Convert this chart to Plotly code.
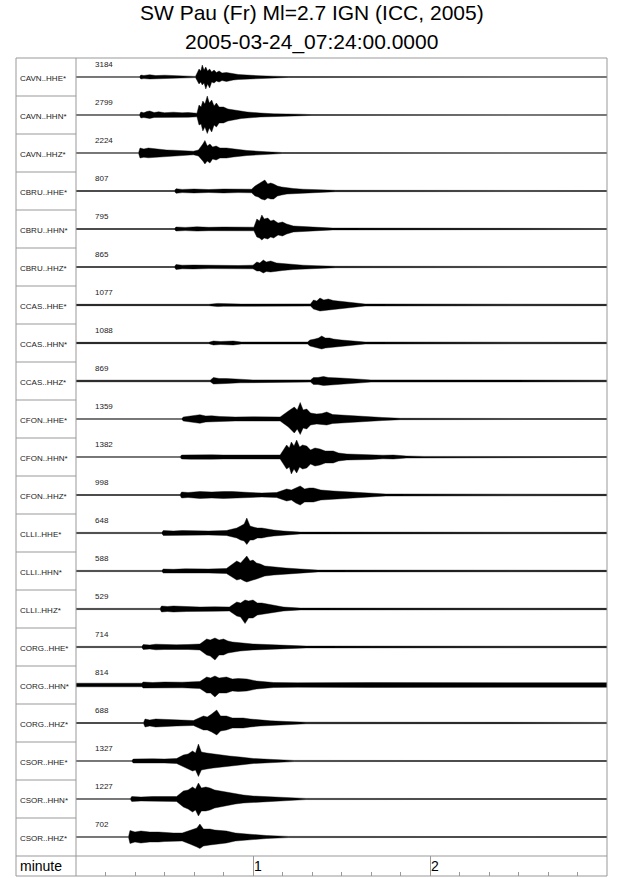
import plotly.graph_objects as go

# station / channel labels, top to bottom
STATIONS = [
    "CAVN..HHE*", "CAVN..HHN*", "CAVN..HHZ*",
    "CBRU..HHE*", "CBRU..HHN*", "CBRU..HHZ*",
    "CCAS..HHE*", "CCAS..HHN*", "CCAS..HHZ*",
    "CFON..HHE*", "CFON..HHN*", "CFON..HHZ*",
    "CLLI..HHE*", "CLLI..HHN*", "CLLI..HHZ*",
    "CORG..HHE*", "CORG..HHN*", "CORG..HHZ*",
    "CSOR..HHE*", "CSOR..HHN*", "CSOR..HHZ*",
]
# max amplitude printed above each trace
MAX_COUNTS = [3184, 2799, 2224, 807, 795, 865, 1077, 1088, 869,
              1359, 1382, 998, 648, 588, 529, 714, 814, 688, 1327, 1227, 702]

# envelope of each trace: time (s), half-height above / below (px)
ENV_T = [
    [0, 21.5, 22, 23, 25, 27, 30, 33, 35, 37, 40.5, 41.7, 42.3, 42.8, 43.4, 44, 44.6, 45.3, 46, 46.8, 47.6, 48.5, 49.5, 51, 53.3, 55, 57.9, 60, 62.4, 67, 72, 180],
    [0, 21.5, 22, 23, 24, 25, 26.5, 28, 30, 33, 36, 38, 41, 41.7, 42.4, 43, 43.7, 44.5, 45.2, 46, 46.8, 47.6, 48.5, 50, 51.5, 53.3, 56, 58, 62.4, 67, 76, 80, 180],
    [0, 21.2, 21.7, 23, 24.5, 26, 28, 30.7, 33, 36, 39.8, 41.5, 42.3, 43, 43.7, 44.5, 45.4, 46.3, 47.5, 48.8, 51, 53.3, 58, 64.6, 70, 180],
    [0, 33.4, 33.9, 36, 40, 45, 50, 55, 59.5, 60.7, 61.8, 62.8, 64, 65, 66, 67, 68.3, 69.7, 71.5, 73.7, 77, 81.6, 88, 180],
    [0, 33.4, 33.9, 37, 41, 45, 50, 55, 60.3, 61.3, 62.2, 63, 63.8, 65, 66, 67, 68.5, 70, 71.4, 73.7, 77, 80.5, 87, 180],
    [0, 33.4, 33.9, 36, 39.8, 45, 50, 55, 60, 61.3, 62.3, 63.5, 64.5, 66, 68, 70, 73.7, 77, 81.6, 88, 180],
    [0, 45, 48, 50, 53, 56, 79.5, 80.5, 81.6, 82.7, 84, 85.5, 87.2, 88.8, 90.6, 94, 98, 180],
    [0, 45, 46.6, 49, 53.3, 56, 78.5, 79.3, 81, 82.2, 83.3, 84.5, 86, 87.2, 90, 94, 98, 180],
    [0, 45.5, 46.6, 48.5, 51, 55.6, 60, 79.5, 80.5, 82, 83.9, 85.5, 87.5, 89.5, 96.3, 100, 180],
    [0, 35.8, 36.4, 39, 42, 44, 46, 48.8, 54, 60, 65, 69.2, 72, 73, 74, 75, 76, 77, 78.2, 79.5, 81.6, 83.3, 85, 87, 89.5, 94, 98.5, 104, 110, 180],
    [0, 35.3, 35.8, 39, 42, 46, 50, 55, 62, 69.2, 71.4, 72.3, 73, 73.9, 74.8, 75.8, 76.8, 78.2, 79.5, 81, 82.7, 84.5, 87.2, 89, 91.8, 96, 100, 104, 107.6, 112, 118, 180],
    [0, 35.3, 35.8, 38, 42, 46, 50, 53, 59, 63, 68, 71.4, 73, 74.5, 76, 77.5, 79, 80.5, 83, 87.2, 92, 98.5, 105, 180],
    [0, 29.1, 29.6, 33, 36, 40, 45, 51, 54.5, 55.8, 57, 57.9, 59, 60.1, 61.5, 63, 64.6, 67, 70.3, 76, 180],
    [0, 29.1, 29.6, 33, 37, 40, 45, 51, 54.5, 55.8, 57, 57.9, 59, 60, 61.2, 62.5, 64, 67, 71, 76, 82, 180],
    [0, 28.5, 29, 31, 33, 37.5, 42, 47, 52, 54.5, 55.8, 57.3, 58.5, 60, 61.5, 63, 64.6, 67, 70.3, 76, 180],
    [0, 22.3, 22.8, 25, 27, 30, 34, 38, 42, 44.3, 45.5, 47.1, 48.5, 50, 51.5, 53, 55.6, 60, 64.6, 71.4, 78, 180],
    [0, 22.3, 22.8, 26, 30, 36, 42, 44.3, 45.6, 47.1, 48.5, 51, 53, 55, 57.9, 61.2, 67, 75, 100, 130, 160, 180],
    [0, 22.9, 23.4, 25, 27, 30.7, 34, 39.8, 43.2, 44.5, 46, 47.7, 49, 51, 53, 56.7, 59, 62.4, 66, 71.4, 78, 180],
    [0, 18.9, 19.4, 22, 26, 30, 34.1, 36.4, 38, 39.5, 40.5, 41.5, 42.5, 44.3, 46.5, 48.8, 52, 55.6, 60.1, 67, 74, 180],
    [0, 18.4, 18.9, 22, 26, 30, 34.1, 36.4, 38, 39.5, 40.5, 41.5, 42.5, 44, 45.4, 47, 49, 51, 54, 56.7, 60, 64.6, 71.4, 78, 180],
    [0, 17.8, 18.3, 20, 22, 25, 28, 30, 33, 36, 38.6, 40, 41, 42, 43.2, 45.4, 47, 51, 54, 57.9, 64.6, 72, 180],
]
ENV_UP = [
    [0.3, 0.3, 2.0, 1.5, 2.3, 1.4, 1.8, 1.3, 1.5, 0.9, 0.6, 8, 6, 12, 7, 10, 6, 8, 5, 7, 4.5, 6, 4, 4.5, 3, 2.5, 2, 1.5, 1.2, 0.8, 0.4, 0.3],
    [0.3, 0.3, 3, 2.2, 3.5, 4, 2.5, 3.2, 2.3, 2.8, 2.2, 2.5, 1.8, 10, 8, 14, 11, 19, 12, 15, 9, 12, 8, 8, 6, 5, 3.5, 3, 2, 1.2, 0.8, 0.4, 0.3],
    [0.3, 0.3, 5, 4, 5, 4.5, 3.5, 3, 2.8, 2.5, 1.8, 3, 6, 9, 12.5, 7, 9, 6, 7, 5, 5, 4, 2.5, 1.2, 0.5, 0.3],
    [0.5, 0.5, 2.3, 1.6, 2, 1.5, 2, 1.6, 1.8, 5, 7, 9, 11, 7, 8, 7, 5, 4, 3, 2.5, 1.8, 1.5, 0.7, 0.5],
    [0.5, 0.5, 2, 1.6, 2.2, 1.7, 2, 1.6, 1.8, 10, 8, 14, 10, 11, 8, 9, 6, 7, 5, 3, 2.3, 1.8, 0.9, 0.5],
    [0.5, 0.5, 2.5, 1.8, 2, 1.6, 1.8, 1.5, 1.8, 5, 4, 7, 5, 6, 4, 3.5, 2.5, 1.8, 1.3, 0.7, 0.5],
    [0.7, 0.7, 1.6, 1.3, 1.6, 0.9, 1.1, 5, 4, 7, 5, 6, 4.5, 4, 3, 2, 1.0, 0.7],
    [0.7, 0.7, 2, 1.5, 2, 1.0, 1.0, 3, 4, 5, 7, 5, 5, 4, 3, 2, 1.0, 0.7],
    [0.8, 0.8, 3.5, 2.5, 2.5, 1.8, 1.1, 1.1, 3.5, 3.5, 4.5, 3.5, 3.5, 3, 1.8, 1.1, 0.8],
    [0.3, 0.3, 2, 2.8, 4.3, 3, 3.2, 2.5, 2, 2.2, 1.8, 2, 8, 10, 12, 9, 16.5, 9, 10, 6, 5, 5.5, 7, 4.5, 4, 3, 2.5, 1.5, 0.7, 0.4],
    [0.3, 0.3, 2, 2.2, 2.5, 2.2, 2, 2, 1.8, 2, 12, 9, 15, 11, 17, 10, 12, 11, 7, 9, 8, 6, 6, 4, 3, 2.5, 2.5, 1.8, 2, 1, 0.6, 0.4],
    [0.5, 0.5, 3, 2.5, 3.5, 3, 3.5, 3.5, 2.5, 2, 2.5, 6, 5, 7, 9, 6, 7, 7, 5, 4, 3, 2, 1.0, 0.7],
    [0.6, 0.6, 2.5, 2, 2.5, 2.2, 2, 2.5, 5, 7, 9, 15, 7, 6, 5, 5, 4, 3, 2, 0.9, 0.7],
    [0.6, 0.6, 2, 1.7, 2.2, 2, 2, 2.5, 10, 8, 12, 15, 10, 11, 8, 7, 5, 4, 3, 2, 0.9, 0.7],
    [0.6, 0.6, 3, 2.5, 3, 2.5, 2, 2.2, 2, 7, 6, 9, 8, 9, 6, 6, 5, 3.5, 2, 0.9, 0.7],
    [0.6, 0.6, 2.5, 2, 2.8, 2.5, 2.2, 2.5, 3, 8, 7, 9, 7, 8, 6, 5, 4, 3, 2.5, 1.5, 0.9, 0.7],
    [1.8, 1.8, 3, 2.5, 3, 2.8, 3.5, 8, 7, 9, 7, 8, 6, 6.5, 6, 4, 2.5, 2.2, 2.4, 2.2, 2.5, 2.3],
    [0.5, 0.5, 4, 3, 4, 3.5, 3, 2.5, 7, 6, 9, 13, 7, 7, 5, 5, 4, 3, 2.2, 1.5, 0.8, 0.6],
    [0.3, 0.3, 2, 1.8, 2.2, 2, 2.5, 6, 7, 10, 8, 17, 9, 8, 7, 6, 5, 4, 2.5, 1.5, 0.6, 0.4],
    [0.3, 0.3, 2.5, 2, 2.5, 2.2, 2.5, 8, 9, 12, 10, 16, 11, 12, 11, 9, 8, 7, 5, 4, 3, 2.5, 1.5, 0.6, 0.4],
    [0.3, 0.3, 6.5, 5, 6, 5, 5, 4.5, 4, 4, 7, 8, 9, 13, 8, 8, 7, 6, 4, 3, 1.5, 0.6, 0.4],
]
ENV_DN = [
    [0.3, 0.3, 2.0, 1.6, 2.0, 1.5, 1.9, 1.2, 1.4, 0.9, 0.6, 7, 5, 8, 6, 12, 7, 11, 5, 6, 4, 5, 3.5, 4.5, 3, 2.5, 2, 1.5, 1.2, 0.8, 0.4, 0.3],
    [0.3, 0.3, 3, 2.5, 3, 3.5, 2.4, 3, 2.5, 2.5, 2.3, 2.3, 1.8, 10, 9, 16, 12, 18.5, 13, 17, 10, 12, 8, 8, 6, 5, 3.5, 3, 2, 1.2, 0.8, 0.4, 0.3],
    [0.3, 0.3, 5, 4.2, 4.8, 4.5, 3.5, 3, 2.6, 2.5, 1.8, 3, 6, 8, 11, 8, 10, 6, 7, 5, 5, 4, 2.5, 1.2, 0.5, 0.3],
    [0.5, 0.5, 2.3, 1.6, 2, 1.5, 2, 1.6, 1.8, 5, 6, 8, 9, 7, 8, 8, 5, 4, 3, 2.5, 1.8, 1.5, 0.7, 0.5],
    [0.5, 0.5, 2, 1.6, 2.1, 1.7, 2, 1.6, 1.8, 8, 9, 11, 9, 10, 8, 9, 6, 7, 5, 3, 2.3, 1.8, 0.9, 0.5],
    [0.5, 0.5, 2.5, 1.8, 2, 1.6, 1.8, 1.5, 1.8, 4, 4, 6, 4.5, 5, 4, 3.5, 2.5, 1.8, 1.3, 0.7, 0.5],
    [0.7, 0.7, 1.6, 1.3, 1.6, 0.9, 1.1, 4, 5, 6, 5, 5, 4.5, 4, 3, 2, 1.0, 0.7],
    [0.7, 0.7, 2, 1.5, 2, 1.0, 1.0, 3, 4, 5, 6, 5, 4.5, 4, 3, 2, 1.0, 0.7],
    [0.8, 0.8, 3, 2.5, 2.5, 1.8, 1.1, 1.1, 3.5, 3.5, 4.5, 3.5, 3.5, 3, 1.8, 1.1, 0.8],
    [0.3, 0.3, 2, 2.8, 4.3, 3, 3.2, 2.5, 2, 2.2, 1.8, 2, 8, 11, 14, 10, 15.5, 9, 10, 6, 5, 5.5, 6, 4.5, 4, 3, 2.5, 1.5, 0.7, 0.4],
    [0.3, 0.3, 2, 2.2, 2.5, 2.2, 2, 2, 1.8, 2, 12, 10, 17, 12, 16, 10, 12, 11, 7, 9, 8, 6, 6, 4, 3, 2.5, 2.5, 1.8, 2, 1, 0.6, 0.4],
    [0.5, 0.5, 3, 2.5, 3.5, 3, 3.5, 3.5, 2.5, 2, 2.5, 6, 5, 8, 10, 7, 7, 7, 5, 4, 3, 2, 1.0, 0.7],
    [0.6, 0.6, 2.5, 2, 2.5, 2.2, 2, 2.5, 5, 7, 8, 11.5, 7, 7, 5, 5, 4, 3, 2, 0.9, 0.7],
    [0.6, 0.6, 2, 1.7, 2.2, 2, 2, 2.5, 9, 8, 10, 11, 10, 9, 8, 7, 5, 4, 3, 2, 0.9, 0.7],
    [0.6, 0.6, 3, 2.5, 3, 2.5, 2, 2.2, 2, 7, 8, 14.5, 9, 9, 6, 6, 5, 3.5, 2, 0.9, 0.7],
    [0.6, 0.6, 2.5, 2, 2.8, 2.5, 2.2, 2.5, 3, 8, 9, 13, 8, 8, 6, 5, 4, 3, 2.5, 1.5, 0.9, 0.7],
    [1.8, 1.8, 3, 2.5, 3, 2.8, 3.5, 8, 8, 12, 8, 8, 6, 6.5, 6, 4, 2.5, 2.2, 2.4, 2.2, 2.5, 2.3],
    [0.5, 0.5, 4, 3, 4, 3.5, 3, 2.5, 7, 7, 9, 12, 8, 7, 5, 5, 4, 3, 2.2, 1.5, 0.8, 0.6],
    [0.3, 0.3, 2, 1.8, 2.2, 2, 2.5, 6, 8, 10, 9, 15.5, 9, 8, 7, 6, 5, 4, 2.5, 1.5, 0.6, 0.4],
    [0.3, 0.3, 2.5, 2, 2.5, 2.2, 2.5, 8, 10, 13, 11, 17, 12, 12, 11, 9, 8, 7, 5, 4, 3, 2.5, 1.5, 0.6, 0.4],
    [0.3, 0.3, 6.5, 5, 6, 5, 5, 4.5, 4, 4, 7, 9, 10, 11.5, 9, 8, 7, 6, 4, 3, 1.5, 0.6, 0.4],
]

TITLE_1 = "SW Pau (Fr) Ml=2.7 IGN (ICC, 2005)"
TITLE_2 = "2005-03-24_07:24:00.0000"

for i in range(len(ENV_T)):
    if not (len(ENV_T[i]) == len(ENV_UP[i]) == len(ENV_DN[i])):
        raise ValueError(f"trace {i}: {len(ENV_T[i])} {len(ENV_UP[i])} {len(ENV_DN[i])}")

# geometry (pixels, page body margin removed below)
W, H = 640, 878
ML, MR, MT, MB = 16, 33, 58, 2
ROW_PX = 38
AXIS_ROW_PX = 20
LABEL_COL_PX = 60
plot_w = W - ML - MR
plot_h = H - MT - MB
x_dom0 = LABEL_COL_PX / plot_w
y_dom0 = AXIS_ROW_PX / plot_h
n = len(STATIONS)
FRAME = "#999999"
FONT = "Liberation Sans, Arial, sans-serif"

fig = go.Figure()

for i in range(n):
    c = i + 0.5
    t = ENV_T[i]
    upper = [c - u / ROW_PX for u in ENV_UP[i]]
    lower = [c + d / ROW_PX for d in ENV_DN[i]]
    fig.add_trace(go.Scatter(
        x=t + t[::-1], y=upper + lower[::-1],
        fill="toself", fillcolor="black", mode="lines",
        line=dict(color="black", width=0.4),
        hoverinfo="skip", showlegend=False,
    ))

# dummy trace so the minute axis gets drawn
fig.add_trace(go.Scatter(x=[0, 180], y=[0, 0], xaxis="x2", yaxis="y2",
                         mode="lines", line=dict(width=0), hoverinfo="skip",
                         showlegend=False))

shapes = [
    dict(type="rect", xref="paper", yref="paper", x0=0, x1=1, y0=0, y1=1,
         line=dict(color=FRAME, width=1)),
    dict(type="line", xref="paper", yref="paper", x0=x_dom0, x1=x_dom0, y0=0, y1=1,
         line=dict(color=FRAME, width=1)),
    dict(type="line", xref="paper", yref="paper", x0=0, x1=1, y0=y_dom0, y1=y_dom0,
         line=dict(color=FRAME, width=1)),
]
for k in range(1, n):
    shapes.append(dict(type="line", xref="paper", yref="y", x0=0, x1=x_dom0, y0=k, y1=k,
                       line=dict(color=FRAME, width=1)))

# page y (px from top) -> paper coordinate
def page_y(py):
    return (H - MB - py) / plot_h

annotations = [
    dict(text=TITLE_1, xref="paper", yref="paper", x=0.5, y=page_y(12.5),
         showarrow=False, font=dict(size=21, family=FONT, color="black"),
         xanchor="center", yanchor="middle"),
    dict(text=TITLE_2, xref="paper", yref="paper", x=0.5, y=page_y(42),
         showarrow=False, font=dict(size=21, family=FONT, color="black"),
         xanchor="center", yanchor="middle"),
    dict(text="minute", xref="paper", yref="paper", x=0.003, y=y_dom0 / 2,
         showarrow=False, font=dict(size=14, family=FONT, color="black"),
         xanchor="left", yanchor="middle"),
]
for m in (1, 2):
    annotations.append(dict(text=str(m), xref="x2", yref="paper", x=m * 60, y=y_dom0 / 2,
                            showarrow=False, font=dict(size=14, family=FONT, color="black"),
                            xanchor="left", yanchor="middle", xshift=-1))
for i, (name, cnt) in enumerate(zip(STATIONS, MAX_COUNTS)):
    annotations.append(dict(text=name, xref="paper", yref="y", x=0.003, y=i + 0.5,
                            showarrow=False, font=dict(size=8, family=FONT, color="#222"),
                            xanchor="left", yanchor="middle", yshift=-1))
    annotations.append(dict(text=str(cnt), xref="x", yref="y", x=5.8, y=i + 0.5 - 13 / ROW_PX,
                            showarrow=False, font=dict(size=8, family=FONT, color="#222"),
                            xanchor="left", yanchor="middle"))

fig.update_layout(
    width=W, height=H,
    margin=dict(l=ML, r=MR, t=MT, b=MB),
    paper_bgcolor="white", plot_bgcolor="white",
    xaxis=dict(domain=[x_dom0, 1], range=[0, 180], visible=False, fixedrange=True),
    yaxis=dict(domain=[y_dom0, 1], range=[n, 0], visible=False, fixedrange=True),
    xaxis2=dict(domain=[x_dom0, 1], range=[0, 180], anchor="y2", fixedrange=True,
                tick0=0, dtick=60, ticks="", showticklabels=False,
                showgrid=True, gridcolor=FRAME, gridwidth=1, zeroline=False, showline=False,
                minor=dict(dtick=10, ticks="inside", ticklen=4, tickcolor=FRAME, showgrid=False)),
    yaxis2=dict(domain=[0, y_dom0], range=[0, 1], visible=False, fixedrange=True),
    shapes=shapes,
    annotations=annotations,
    showlegend=False,
)

fig.write_html("out.html", config={"displayModeBar": False},
               post_script="document.body.style.margin = '0';")
